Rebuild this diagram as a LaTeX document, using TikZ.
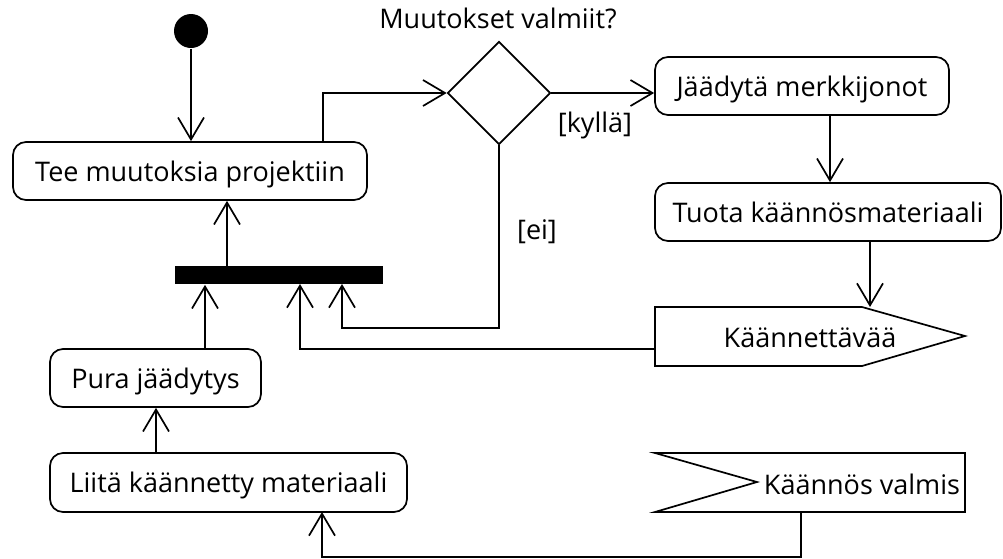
\documentclass[tikz,border=0pt]{standalone}
\usepackage{fontspec}
\setmainfont{Open Sans}
\usetikzlibrary{arrows.meta,shapes.geometric}
\begin{document}
\begin{tikzpicture}[x=1pt,y=-1pt,
  line width=1.7pt,
  every node/.style={font=\fontsize{27}{32}\selectfont, inner sep=0pt},
  action/.style={draw, rounded corners=13pt, minimum height=58pt,
    text height=20pt, text depth=0pt},
  arr/.style={-{Straight Barb[length=22pt,width=26pt,line width=1.7pt]}}]
  \useasboundingbox (0,0) rectangle (1003,558);

  % initial node
  \node[circle, fill=black, minimum size=34pt] (start) at (191,31) {};

  % actions
  \node[action, minimum width=354pt] (tee) at (190,171) {Tee muutoksia projektiin};
  \node[action, minimum width=294pt] (jaa) at (802,86) {Jäädytä merkkijonot};
  \node[action, minimum width=346pt] (tuota) at (828,212) {Tuota käännösmateriaali};
  \node[action, minimum width=211pt] (pura) at (155.5,378) {Pura jäädytys};
  \node[action, minimum width=357pt, minimum height=59pt] (liita) at (228.5,482.5) {Liitä käännetty materiaali};

  % decision
  \node[diamond, draw, minimum width=103pt, minimum height=103pt, aspect=1] (dia) at (499,93) {};
  \node (q) at (498,18) {Muutokset valmiit?};
  \node (kylla) at (595,125) {[kyllä]};
  \node (ei) at (537,232) {[ei]};

  % join bar
  \node[fill=black, minimum width=208pt, minimum height=18pt] (bar) at (279,275) {};

  % send signal
  \draw (655,307) -- (862,307) -- (965,336) -- (862,366) -- (655,366) -- cycle;
  \node (sendtxt) at (810,338) {Käännettävää};
  \coordinate (sendin) at (870,307);
  \coordinate (sendout) at (655,349);

  % accept signal
  \draw (655,453) -- (965,453) -- (965,512) -- (655,512) -- (757,482) -- cycle;
  \node (acctxt) at (862,484) {Käännös valmis};
  \coordinate (accout) at (801,512);

  % connectors
  \draw[arr] (start.south) -- (start.south |- tee.north);
  \coordinate (teeout) at (323,142);
  \draw[arr] (teeout) |- (dia.west);
  \draw[arr] (dia.east) -- (dia.east -| jaa.west);
  \coordinate (jaaout) at (830,115);
  \draw[arr] (jaaout) -- (jaaout |- tuota.north);
  \coordinate (tuotaout) at (870,241);
  \draw[arr] (tuotaout) -- (sendin);
  \coordinate (barin1) at (300,284);
  \draw[arr] (sendout) -| (barin1);
  \coordinate (eibend) at (499,328);
  \coordinate (barin2) at (342,284);
  \draw[arr] (dia.south) -- (eibend) -| (barin2);
  \coordinate (barout) at (227,266);
  \draw[arr] (barout) -- (barout |- tee.south);
  \coordinate (purain) at (205,349);
  \draw[arr] (purain) -- (purain |- bar.south);
  \coordinate (liitaout) at (156,453);
  \draw[arr] (liitaout) -- (liitaout |- pura.south);
  \coordinate (liitain) at (322,512);
  \draw[arr] (accout) -- (801,557) -| (liitain);
\end{tikzpicture}
\end{document}
